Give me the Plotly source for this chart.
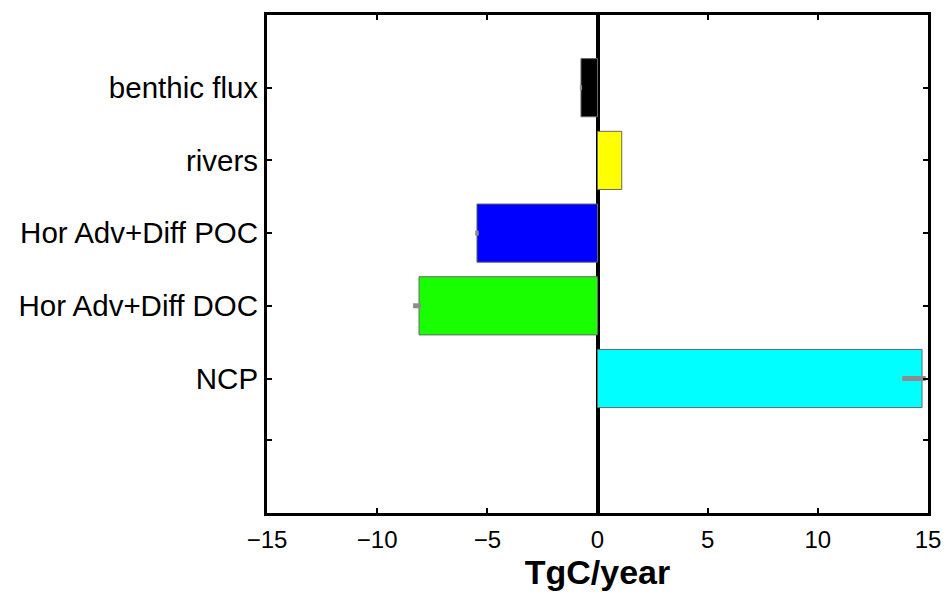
import plotly.graph_objects as go

categories = ["benthic flux", "rivers", "Hor Adv+Diff POC", "Hor Adv+Diff DOC", "NCP"]
values = [-0.75, 1.1, -5.47, -8.1, 14.73]
err_plus = [0.05, 0.0, 0.08, 0.1, 0.17]
err_minus = [0.05, 0.0, 0.08, 0.27, 0.9]
colors = ["#000000", "#FFFF00", "#0000FF", "#1AFF00", "#00FFFF"]
x_ticks = [-15, -10, -5, 0, 5, 10, 15]
x_tick_labels = ["\u221215", "\u221210", "\u22125", "0", "5", "10", "15"]

ypos = list(range(1, len(categories) + 1))

fig = go.Figure()
fig.add_trace(go.Bar(
    x=values, y=ypos, orientation="h", width=0.8,
    marker=dict(color=colors, line=dict(color="#666666", width=1)),
    error_x=dict(type="data", symmetric=False, array=err_plus, arrayminus=err_minus,
                 color="#8c8c8c", thickness=5, width=0),
    showlegend=False,
))

font = "Liberation Sans, Arial, Helvetica, sans-serif"
# page body has an 8px margin; compensate so the plot frame lands where the reference has it
fig.update_layout(
    width=941, height=591,
    margin=dict(l=259, r=21, t=4, b=86),
    paper_bgcolor="white", plot_bgcolor="white",
    font=dict(family=font, color="black"),
    bargap=0.2,
)
fig.update_xaxes(
    range=[-15, 15], tickvals=x_ticks, ticktext=x_tick_labels,
    tickfont=dict(size=24), ticks="inside", ticklen=5, tickwidth=2, tickcolor="black",
    showline=True, linecolor="black", linewidth=3, mirror="ticks",
    showgrid=False, zeroline=True, zerolinecolor="black", zerolinewidth=4,
    ticklabelstandoff=3,
    title=dict(text="<b>TgC/year</b>", font=dict(size=34), standoff=8),
)
fig.update_yaxes(
    range=[6.85, 0], tickvals=ypos + [5.85], ticktext=categories + [""],
    tickfont=dict(size=29.5), ticks="inside", ticklen=5, tickwidth=2, tickcolor="black",
    showline=True, linecolor="black", linewidth=3, mirror="ticks",
    showgrid=False, zeroline=False, ticklabelstandoff=0,
)
fig.write_html("out.html")
